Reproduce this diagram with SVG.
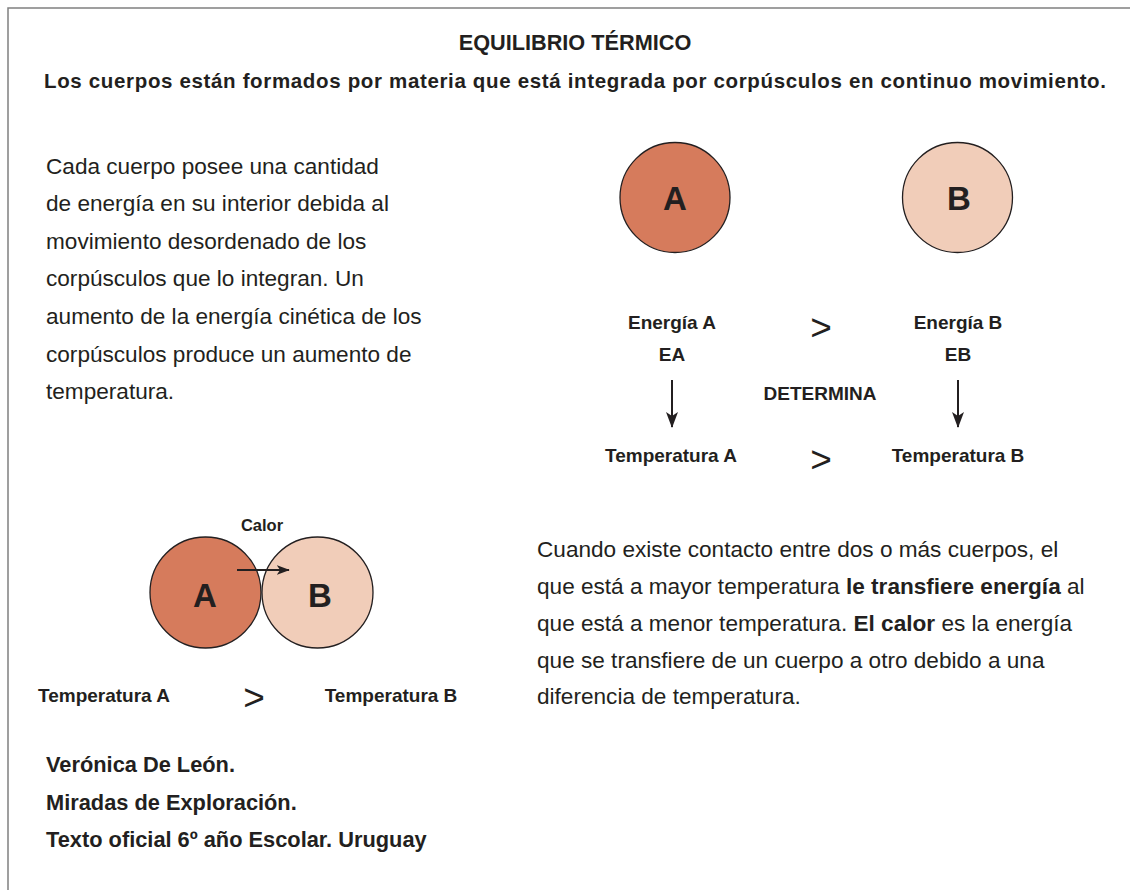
<svg xmlns="http://www.w3.org/2000/svg" width="1130" height="890" viewBox="0 0 1130 890">
<style>
text{font-family:"Liberation Sans",Arial,sans-serif;fill:#231f20}
.b{font-weight:bold}
.body{font-size:22.6px}
.lbl{font-size:19px;font-weight:bold;text-anchor:middle}
.big{font-size:33px;font-weight:bold;text-anchor:middle}
.gt{font-size:37px;text-anchor:middle}
.ca{fill:#d67b5c;stroke:#231f20;stroke-width:1.3}
.cb{fill:#f1cdb9;stroke:#231f20;stroke-width:1.3}
.arr{stroke:#231f20;stroke-width:2;fill:none}
</style>
<defs>
<marker id="ah" viewBox="0 0 16 12" refX="15" refY="6" markerWidth="16" markerHeight="12" markerUnits="userSpaceOnUse" orient="auto">
<path d="M0,0 L16,6 L0,12 L4,6 z" fill="#231f20"/>
</marker>
<marker id="ahs" viewBox="0 0 16 12" refX="15" refY="6" markerWidth="13" markerHeight="10" markerUnits="userSpaceOnUse" orient="auto">
<path d="M0,0 L16,6 L0,12 L4,6 z" fill="#231f20"/>
</marker>
</defs>
<rect width="1130" height="890" fill="#ffffff"/>
<path d="M8,890 L8,8 L1130,8" fill="none" stroke="#808080" stroke-width="1.5"/>

<g id="title">
<text x="575" y="50" class="b" font-size="21.7" text-anchor="middle">EQUILIBRIO TÉRMICO</text>
<text x="575" y="88" class="b" font-size="20.5" text-anchor="middle" textLength="1062">Los cuerpos están formados por materia que está integrada por corpúsculos en continuo movimiento.</text>
</g>

<g id="intro-text">
<text x="46" y="174" class="body">Cada cuerpo posee una cantidad</text>
<text x="46" y="211" class="body">de energía en su interior debida al</text>
<text x="46" y="249" class="body">movimiento desordenado de los</text>
<text x="46" y="286" class="body">corpúsculos que lo integran. Un</text>
<text x="46" y="324" class="body">aumento de la energía cinética de los</text>
<text x="46" y="362" class="body">corpúsculos produce un aumento de</text>
<text x="46" y="399" class="body">temperatura.</text>
</g>

<g id="node-circle-a">
<circle cx="675" cy="197.5" r="55" class="ca"/>
<text x="675" y="210" class="big">A</text>
</g>
<g id="node-circle-b">
<circle cx="957.5" cy="197.5" r="55" class="cb"/>
<text x="959" y="210" class="big">B</text>
</g>

<g id="node-energia-a">
<text x="672" y="329" class="lbl">Energía A</text>
<text x="672" y="361" class="lbl">EA</text>
</g>
<g id="node-energia-b">
<text x="958" y="329" class="lbl">Energía B</text>
<text x="958" y="361" class="lbl">EB</text>
</g>
<g id="node-gt-energy">
<text x="821" y="340" class="gt">&gt;</text>
</g>
<g id="node-determina">
<text x="820" y="400" class="lbl">DETERMINA</text>
</g>
<g id="node-temp-a">
<text x="671" y="462" class="lbl">Temperatura A</text>
</g>
<g id="node-temp-b">
<text x="958" y="462" class="lbl">Temperatura B</text>
</g>
<g id="node-gt-temp">
<text x="821" y="472" class="gt">&gt;</text>
</g>

<g id="node-contact-a">
<circle cx="205.5" cy="592.5" r="55.5" class="ca"/>
<text x="205" y="607" class="big">A</text>
</g>
<g id="node-contact-b">
<circle cx="317.5" cy="592.5" r="55.5" class="cb"/>
<text x="320" y="607" class="big">B</text>
</g>
<g id="node-calor">
<text x="262" y="531" class="b" font-size="16.5" text-anchor="middle">Calor</text>
</g>
<g id="node-bottom-temps">
<text x="104" y="702" class="lbl">Temperatura A</text>
<text x="254" y="710" class="gt">&gt;</text>
<text x="391" y="702" class="lbl">Temperatura B</text>
</g>

<g id="connectors">
<line x1="672" y1="380" x2="672" y2="427" class="arr" marker-end="url(#ah)"/>
<line x1="958" y1="380" x2="958" y2="427" class="arr" marker-end="url(#ah)"/>
<line x1="237" y1="570" x2="289" y2="570" class="arr" marker-end="url(#ahs)"/>
</g>

<g id="contact-text">
<text x="537" y="557" class="body">Cuando existe contacto entre dos o más cuerpos, el</text>
<text x="537" y="594" class="body">que está a mayor temperatura <tspan class="b">le transfiere energía</tspan> al</text>
<text x="537" y="631" class="body">que está a menor temperatura. <tspan class="b">El calor</tspan> es la energía</text>
<text x="537" y="668" class="body">que se transfiere de un cuerpo a otro debido a una</text>
<text x="537" y="704" class="body">diferencia de temperatura.</text>
</g>

<g id="credits">
<text x="46" y="772" class="b" font-size="21.8">Verónica De León.</text>
<text x="46" y="810" class="b" font-size="21.8">Miradas de Exploración.</text>
<text x="46" y="847" class="b" font-size="21.8">Texto oficial 6º año Escolar. Uruguay</text>
</g>
</svg>
